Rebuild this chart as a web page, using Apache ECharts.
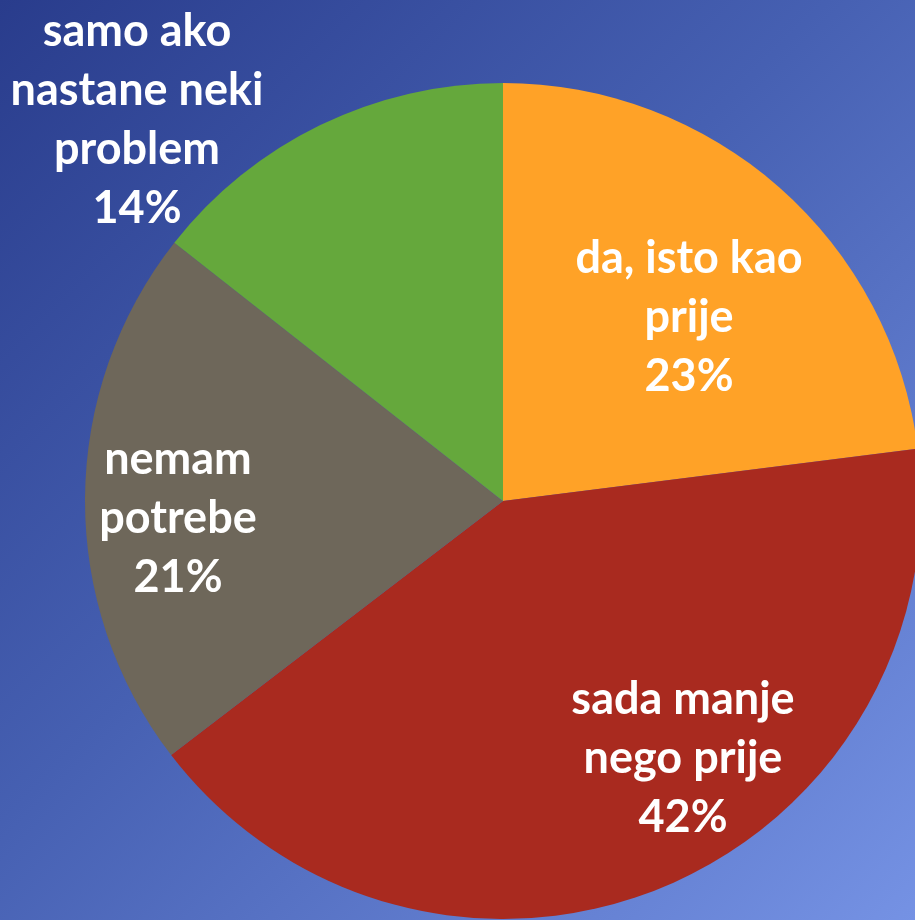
<!DOCTYPE html>
<html>
<head>
<meta charset="utf-8">
<script src="https://cdn.jsdelivr.net/npm/echarts@6/dist/echarts.min.js"></script>
<style>
  html, body { margin: 0; padding: 0; }
  #chart { width: 915px; height: 920px; }
</style>
</head>
<body>
<div id="chart"></div>
<script>
// slices in clockwise order starting at 12 o'clock
const categories = [
  "da, isto kao\nprije",
  "sada manje\nnego prije",
  "nemam\npotrebe",
  "samo ako\nnastane neki\nproblem"
];
const shares = [23.0, 41.6, 21.0, 14.4];
const sliceColors = ["#ffa227", "#a92a1f", "#6e675a", "#65a83c"];

// where each label sits (label centre, px)
const labelCentres = [[689, 317], [683, 758], [178, 518], [137, 120]];

var myChart = echarts.init(document.getElementById("chart"));

var option = {
  backgroundColor: {
    type: "linear",
    x: 0, y: 0, x2: 1, y2: 1,
    colorStops: [
      { offset: 0, color: "#293c8c" },
      { offset: 0.45, color: "#4660b2" },
      { offset: 1, color: "#7592e4" }
    ]
  },
  animation: false,
  series: [
    {
      type: "pie",
      center: [503, 501],
      radius: 418,
      startAngle: 90,
      clockwise: true,
      percentPrecision: 0,
      emphasis: { disabled: true },
      itemStyle: { borderWidth: 0 },
      label: {
        show: true,
        position: "inside",
        formatter: "{b}\n{d}%",
        color: "#ffffff",
        fontFamily: "Lato",
        fontWeight: "bold",
        fontSize: 45,
        lineHeight: 59,
        align: "center"
      },
      labelLine: { show: false },
      labelLayout: function (params) {
        const c = labelCentres[params.dataIndex];
        return { x: c[0], y: c[1], align: "center", verticalAlign: "middle" };
      },
      data: categories.map((name, i) => ({
        name: name,
        value: shares[i],
        itemStyle: { color: sliceColors[i] }
      }))
    }
  ]
};

myChart.setOption(option);
</script>
</body>
</html>
